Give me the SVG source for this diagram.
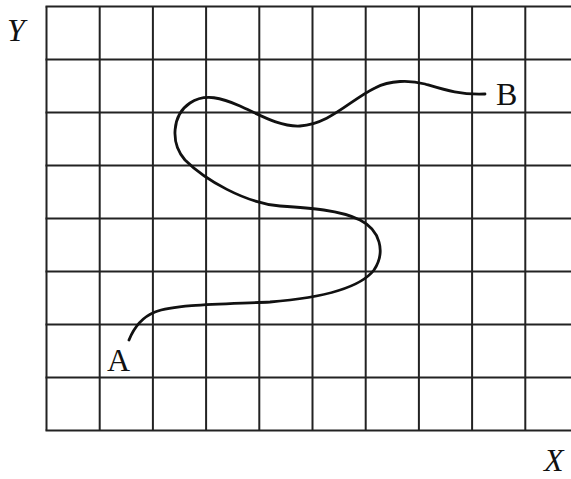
<svg xmlns="http://www.w3.org/2000/svg" width="571" height="479" viewBox="0 0 571 479">
<style>
.grid line{stroke:#222;stroke-width:2}
.curve{fill:none;stroke:#111;stroke-width:2.8;stroke-linecap:round}
.lbl{font-family:"Liberation Serif",serif;font-size:32px;fill:#111}
.ax{font-style:italic}
</style>
<rect width="571" height="479" fill="#fff"/>
<g id="grid" class="grid">
<line x1="46.5" y1="6.5" x2="46.5" y2="430.5"/>
<line x1="99.7" y1="6.5" x2="99.7" y2="430.5"/>
<line x1="152.9" y1="6.5" x2="152.9" y2="430.5"/>
<line x1="206.1" y1="6.5" x2="206.1" y2="430.5"/>
<line x1="259.3" y1="6.5" x2="259.3" y2="430.5"/>
<line x1="312.5" y1="6.5" x2="312.5" y2="430.5"/>
<line x1="365.7" y1="6.5" x2="365.7" y2="430.5"/>
<line x1="418.9" y1="6.5" x2="418.9" y2="430.5"/>
<line x1="472.1" y1="6.5" x2="472.1" y2="430.5"/>
<line x1="525.3" y1="6.5" x2="525.3" y2="430.5"/>
<line x1="45.5" y1="6.5" x2="571" y2="6.5"/>
<line x1="45.5" y1="59.5" x2="571" y2="59.5"/>
<line x1="45.5" y1="112.5" x2="571" y2="112.5"/>
<line x1="45.5" y1="165.5" x2="571" y2="165.5"/>
<line x1="45.5" y1="218.5" x2="571" y2="218.5"/>
<line x1="45.5" y1="271.5" x2="571" y2="271.5"/>
<line x1="45.5" y1="324.5" x2="571" y2="324.5"/>
<line x1="45.5" y1="377.5" x2="571" y2="377.5"/>
<line x1="45.5" y1="430.5" x2="571" y2="430.5"/>
</g>
<g id="path-AB">
<path class="curve" d="M129,340 C133,330 140,318 155,312 C175,304 230,304 270,302 C320,298 360,288 374,270 C386,252 380,230 360,220 C340,210 310,208 280,206 C245,203 205,180 185,160 C170,143 172,115 190,103 C205,93 222,98 240,106 C260,115 280,127 300,126 C330,124 350,100 375,88 C390,80 410,80 425,84 C445,90 460,95 485,94"/>
</g>
<g id="labels">
<text class="lbl ax" x="7" y="41">Y</text>
<text class="lbl" x="496" y="105">B</text>
<text class="lbl" x="107" y="371">A</text>
<text class="lbl ax" x="544" y="471">X</text>
</g>
</svg>
